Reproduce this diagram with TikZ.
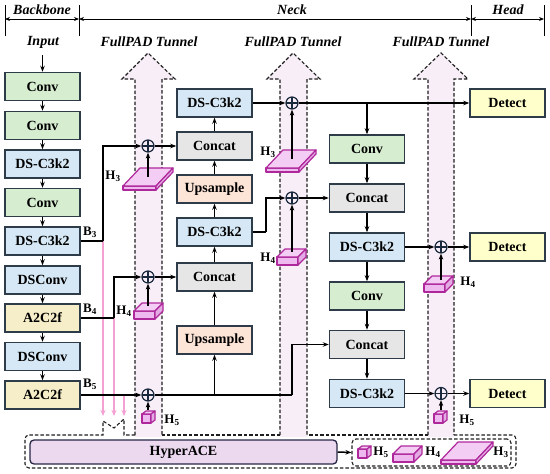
\documentclass[tikz,border=0pt]{standalone}
\usepackage{fontspec}
\setmainfont{Liberation Serif}
\usetikzlibrary{arrows.meta}
\definecolor{bord}{RGB}{45,60,72}
\definecolor{cgreen}{RGB}{214,237,208}
\definecolor{cblue}{RGB}{214,232,245}
\definecolor{cyell}{RGB}{245,238,200}
\definecolor{cgray}{RGB}{230,230,230}
\definecolor{csalm}{RGB}{252,228,214}
\definecolor{cdet}{RGB}{255,255,204}
\definecolor{tunfill}{RGB}{248,238,248}
\definecolor{dashcol}{RGB}{30,30,30}
\definecolor{pinkln}{RGB}{245,160,210}
\definecolor{blkdraw}{RGB}{175,40,155}
\definecolor{blkfront}{RGB}{238,185,238}
\definecolor{blktop}{RGB}{244,205,244}
\definecolor{blkside}{RGB}{228,170,228}
\definecolor{hyfill}{RGB}{236,217,240}
\definecolor{hydraw}{RGB}{40,40,70}
\definecolor{pluscol}{RGB}{25,40,60}
\tikzset{
  box/.style={draw=bord, line width=1.5pt, minimum width=75pt, minimum height=28pt, inner sep=0pt, font=\fontsize{14}{16}\selectfont\bfseries},
  convbox/.style={box, fill=cgreen},
  dsbox/.style={box, fill=cblue},
  a2box/.style={box, fill=cyell},
  catbox/.style={box, fill=cgray},
  upbox/.style={box, fill=csalm},
  detbox/.style={box, fill=cdet},
  arr/.style={line width=1.5pt, -{Stealth[length=6pt,width=4.5pt]}},
  ln/.style={line width=1.5pt},
  pinkarr/.style={draw=pinkln, line width=1.8pt, -{Stealth[length=6pt,width=5pt]}},
  plusnode/.style={circle, draw=pluscol, line width=1.2pt, minimum size=12pt, inner sep=0pt,
    path picture={\draw[pluscol, line width=1.2pt] (path picture bounding box.north) -- (path picture bounding box.south) (path picture bounding box.west) -- (path picture bounding box.east);}},
  dashln/.style={draw=dashcol, line width=1.1pt, dash pattern=on 3.5pt off 2pt},
  hdr/.style={font=\fontsize{14}{16}\selectfont\bfseries\itshape},
  lab/.style={font=\fontsize{13}{15}\selectfont\bfseries, inner sep=0pt},
  blk3d/.style={draw=blkdraw, line width=1.2pt, line join=round, fill=blkfront},
  hdrarr/.style={line width=1pt, {Stealth[length=5pt,width=4pt]}-{Stealth[length=5pt,width=4pt]}},
}
\newcommand{\cubeblk}[6]{%
  \filldraw[blk3d] (#1,#2) rectangle ++(#3,-#4);
  \filldraw[blk3d, fill=blktop] (#1,#2-#4) -- ++(#3,0) -- ++(#5,-#6) -- ++(-#3,0) -- cycle;
  \filldraw[blk3d, fill=blkside] (#1+#3,#2) -- ++(#5,-#6) -- ++(0,-#4) -- ++(-#5,#6) -- cycle;
}
\begin{document}
\begin{tikzpicture}[x=1pt,y=-1pt]
\useasboundingbox (0,0) rectangle (550,474);
% ---------- header ----------
\coordinate (hA) at (5,19); \coordinate (hB) at (79,19);
\coordinate (hC) at (471,19); \coordinate (hD) at (544,19);
\draw[line width=1pt] (5,5) -- (5,36) (79,5) -- (79,36) (471,5) -- (471,36) (544,5) -- (544,36);
\draw[hdrarr] (hA) -- (hB);
\draw[hdrarr] (hB) -- (hC);
\draw[hdrarr] (hC) -- (hD);
\node[hdr] (tBack) at (42,10) {Backbone};
\node[hdr] (tNeck) at (292,10) {Neck};
\node[hdr] (tHead) at (508,10) {Head};
\node[hdr] (tIn) at (43,42) {Input};
\node[hdr] (tT1) at (149,42) {FullPAD Tunnel};
\node[hdr] (tT2) at (293,42) {FullPAD Tunnel};
\node[hdr] (tT3) at (441,42) {FullPAD Tunnel};
% ---------- tunnels ----------
\foreach \cx/\l/\r/\bl/\br in {148/135/162/122/175, 293/280/307/267/320, 441/428/454/414/468}{
  \fill[tunfill] (\l,437) -- (\l,79) -- (\bl,79) -- (\cx,53) -- (\br,79) -- (\r,79) -- (\r,437) -- cycle;
  \draw[dashln] (\l,435) -- (\l,79) -- (\bl,79) -- (\cx,53) -- (\br,79) -- (\r,79) -- (\r,435);
}
% outer dashed box
\draw[dashln] (135,435) -- (124,435) -- (124,419) -- (114,428) -- (103,421) -- (103,435) -- (29,435)
  [rounded corners=4] -- (25,435) -- (25,468) -- (516,468) -- (516,435) [sharp corners] -- (454,435);
\draw[dashln] (428,435) -- (307,435);
\draw[dashln] (280,435) -- (162,435);
% ---------- backbone ----------
\coordinate (inp) at (42.5,55);
\node[convbox] (c1) at (42.5,86.5) {Conv};
\node[convbox] (c2) at (42.5,125.5) {Conv};
\node[dsbox] (d1) at (42.5,164) {DS-C3k2};
\node[convbox] (c3) at (42.5,202.5) {Conv};
\node[dsbox] (d2) at (42.5,241) {DS-C3k2};
\node[dsbox] (dc1) at (42.5,280) {DSConv};
\node[a2box] (a1) at (42.5,318) {A2C2f};
\node[dsbox] (dc2) at (42.5,356.5) {DSConv};
\node[a2box] (a2) at (42.5,395) {A2C2f};
\draw[arr] (inp) -- (c1);
\draw[arr] (c1) -- (c2);
\draw[arr] (c2) -- (d1);
\draw[arr] (d1) -- (c3);
\draw[arr] (c3) -- (d2);
\draw[arr] (d2) -- (dc1);
\draw[arr] (dc1) -- (a1);
\draw[arr] (a1) -- (dc2);
\draw[arr] (dc2) -- (a2);
% ---------- neck middle column ----------
\node[dsbox] (m1) at (214.5,103) {DS-C3k2};
\node[catbox] (m2) at (214.5,146) {Concat};
\node[upbox] (m3) at (214.5,189) {Upsample};
\node[dsbox] (m4) at (214.5,232) {DS-C3k2};
\node[catbox] (m5) at (214.5,277) {Concat};
\node[upbox] (m6) at (214.5,340) {Upsample};
% ---------- right column ----------
\node[convbox] (r1) at (367,149) {Conv};
\node[catbox] (r2) at (367,198) {Concat};
\node[dsbox] (r3) at (367,247) {DS-C3k2};
\node[convbox] (r4) at (367,296) {Conv};
\node[catbox] (r5) at (367,344.5) {Concat};
\node[dsbox] (r6) at (367,393.5) {DS-C3k2};
% ---------- detect ----------
\node[detbox] (t1) at (507.5,103) {Detect};
\node[detbox] (t2) at (507.5,247) {Detect};
\node[detbox] (t3) at (507.5,393.5) {Detect};
% ---------- plus nodes ----------
\node[plusnode] (pA) at (148,146) {};
\node[plusnode] (pB) at (148,277) {};
\node[plusnode] (pC) at (148,395) {};
\node[plusnode] (pD) at (292,103) {};
\node[plusnode] (pE) at (292,198) {};
\node[plusnode] (pF) at (441,247) {};
\node[plusnode] (pG) at (441,393.5) {};
% ---------- pink lines ----------
\coordinate (j3) at (103,241);
\coordinate (j4) at (114,318);
\coordinate (j5) at (124,395);
\coordinate (e3) at (103,416);
\coordinate (e4) at (114,416);
\coordinate (e5) at (124,416);
\draw[pinkarr] (j3) -- (e3);
\draw[pinkarr] (j4) -- (e4);
\draw[pinkarr] (j5) -- (e5);
% ---------- backbone outputs ----------
\node[lab] (lB3) at (90,232) {B\textsubscript{3}};
\node[lab] (lB4) at (90,309) {B\textsubscript{4}};
\node[lab] (lB5) at (90,384) {B\textsubscript{5}};
\draw[ln] (d2.east) -- (j3);
\draw[arr] (j3) |- (pA.west);
\draw[arr] (pA) -- (m2.west);
\draw[ln] (a1.east) -- (j4);
\draw[arr] (j4) |- (pB.west);
\draw[arr] (pB) -- (m5.west);
\draw[arr] (a2.east) -- (pC.west);
\coordinate (k5) at (214.5,395);
\coordinate (q5) at (292,395);
\draw[ln] (pC.east) -- (q5);
\draw[arr] (q5) |- (r5.west);
\draw[arr] (k5) -- (m6.south);
% middle column flow
\draw[arr] (m6) -- (m5);
\draw[arr] (m5) -- (m4);
\draw[arr] (m4) -- (m3);
\draw[arr] (m3) -- (m2);
\draw[arr] (m2) -- (m1);
\draw[arr] (m1.east) -- (pD.west);
\draw[arr] (pD) -- (t1.west);
\coordinate (k1) at (367,103);
\draw[arr] (k1) -- (r1.north);
\coordinate (k4) at (266,232);
\draw[ln] (m4.east) -- (k4);
\draw[arr] (k4) |- (pE.west);
\draw[arr] (pE) -- (r2.west);
% right column flow
\draw[arr] (r1) -- (r2);
\draw[arr] (r2) -- (r3);
\draw[arr] (r3) -- (r4);
\draw[arr] (r4) -- (r5);
\draw[arr] (r5) -- (r6);
\draw[arr] (r3.east) -- (pF.west);
\draw[arr] (pF) -- (t2.west);
\draw[arr] (r6.east) -- (pG.west);
\draw[arr] (pG) -- (t3.west);
% ---------- 3D feature blocks in tunnels ----------
\cubeblk{123}{190}{33}{4}{17}{18}
\cubeblk{266}{172}{33}{4}{17}{18}
\cubeblk{134}{319}{21}{8}{8}{8}
\cubeblk{277}{265}{21}{8}{8}{8}
\cubeblk{424}{292}{21}{8}{8}{8}
\cubeblk{142}{423}{9}{9}{4}{3}
\cubeblk{434}{423}{9}{9}{4}{3}
\coordinate (sA) at (148,177);
\coordinate (sB) at (148,306);
\coordinate (sC) at (148,410);
\coordinate (sD) at (292,159);
\coordinate (sE) at (292,252);
\coordinate (sF) at (441,280);
\coordinate (sG) at (441,410);
\draw[arr] (sA) -- (pA.south);
\draw[arr] (sB) -- (pB.south);
\draw[arr] (sC) -- (pC.south);
\draw[arr] (sD) -- (pD.south);
\draw[arr] (sE) -- (pE.south);
\draw[arr] (sF) -- (pF.south);
\draw[arr] (sG) -- (pG.south);
\node[lab] (hA3) at (113,176) {H\textsubscript{3}};
\node[lab] (hB4) at (124,311) {H\textsubscript{4}};
\node[lab] (hC5) at (172,420) {H\textsubscript{5}};
\node[lab] (hD3) at (268,152) {H\textsubscript{3}};
\node[lab] (hE4) at (268,258) {H\textsubscript{4}};
\node[lab] (hF4) at (468,282) {H\textsubscript{4}};
\node[lab] (hG5) at (467,420) {H\textsubscript{5}};
% ---------- HyperACE ----------
\node[draw=hydraw, fill=hyfill, line width=1.3pt, rounded corners=4pt, minimum width=307pt, minimum height=24pt, inner sep=0pt, font=\fontsize{14}{16}\selectfont\bfseries] (hy) at (183.5,452) {HyperACE};
\node[draw=dashcol, line width=1.1pt, dash pattern=on 3.5pt off 2pt, rounded corners=4pt, minimum width=159pt, minimum height=27pt, inner sep=0pt] (ib) at (431.5,452.5) {};
\draw[arr] (hy.east) -- (ib.west);
\cubeblk{358}{458}{9}{9}{4}{3}
\node[lab] (iH5) at (381,452) {H\textsubscript{5}};
\cubeblk{393}{462}{21}{8}{8}{8}
\node[lab] (iH4) at (433,452) {H\textsubscript{4}};
\cubeblk{441}{464}{35}{4}{17}{18}
\node[lab] (iH3) at (501,452) {H\textsubscript{3}};
\end{tikzpicture}
\end{document}
